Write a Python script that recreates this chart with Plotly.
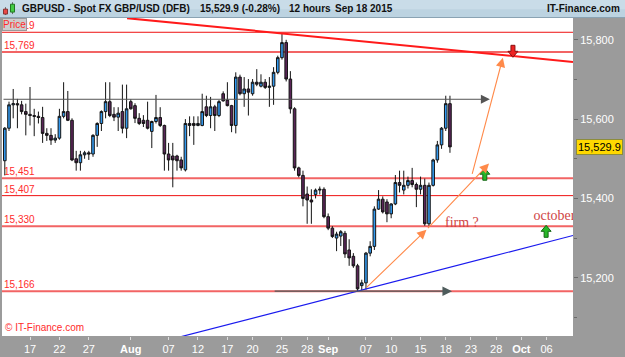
import plotly.graph_objects as go

# ---- 12-hour candles, GBPUSD (x = candle slot index) ----
opens = [15495, 15577, 15636, 15639, 15636, 15619, 15612, 15609, 15607, 15604,
         15564, 15559, 15547, 15552, 15607, 15619, 15597, 15500, 15490, 15510,
         15515, 15512, 15559, 15589, 15619, 15644, 15612, 15605, 15619, 15577,
         15644, 15634, 15602, 15597, 15597, 15569, 15594, 15604, 15584, 15512,
         15507, 15507, 15497, 15472, 15589, 15589, 15584, 15584, 15631, 15609,
         15631, 15609, 15664, 15648, 15634, 15584, 15706, 15664, 15676, 15664,
         15693, 15683, 15693, 15680, 15683, 15718, 15755, 15793, 15701, 15626,
         15477, 15458, 15411, 15396, 15410, 15421, 15423, 15354, 15325, 15300,
         15305, 15312, 15270, 15254, 15230, 15180, 15187, 15262, 15279, 15373,
         15398, 15391, 15361, 15386, 15440, 15421, 15433, 15445, 15435, 15423,
         15433, 15336, 15433, 15497, 15535, 15577, 15639]
highs = [15580, 15644, 15676, 15651, 15646, 15639, 15681, 15626, 15619, 15631,
         15577, 15577, 15562, 15626, 15693, 15671, 15602, 15520, 15520, 15520,
         15520, 15562, 15592, 15622, 15693, 15693, 15630, 15630, 15687, 15687,
         15650, 15640, 15615, 15610, 15644, 15596, 15661, 15630, 15586, 15540,
         15540, 15510, 15505, 15600, 15607, 15607, 15607, 15664, 15659, 15656,
         15636, 15648, 15670, 15693, 15636, 15718, 15712, 15706, 15701, 15701,
         15726, 15713, 15701, 15706, 15731, 15760, 15817, 15800, 15721, 15630,
         15480, 15470, 15430, 15423, 15425, 15430, 15428, 15362, 15330, 15316,
         15320, 15318, 15297, 15262, 15235, 15195, 15265, 15292, 15380, 15421,
         15405, 15398, 15388, 15459, 15470, 15470, 15455, 15477, 15440, 15455,
         15450, 15440, 15500, 15545, 15580, 15659, 15659]
lows = [15458, 15570, 15602, 15577, 15612, 15559, 15584, 15557, 15589, 15540,
        15545, 15535, 15540, 15548, 15602, 15595, 15494, 15470, 15470, 15500,
        15497, 15505, 15530, 15570, 15602, 15605, 15595, 15570, 15564, 15552,
        15624, 15590, 15585, 15580, 15574, 15527, 15589, 15580, 15470, 15470,
        15428, 15470, 15470, 15468, 15557, 15535, 15582, 15582, 15605, 15577,
        15570, 15605, 15644, 15632, 15567, 15564, 15660, 15631, 15609, 15659,
        15683, 15680, 15676, 15631, 15636, 15713, 15750, 15695, 15614, 15470,
        15453, 15380, 15336, 15336, 15400, 15410, 15350, 15320, 15300, 15267,
        15280, 15250, 15230, 15225, 15166, 15168, 15170, 15254, 15270, 15371,
        15362, 15340, 15350, 15383, 15415, 15410, 15425, 15428, 15378, 15410,
        15331, 15331, 15430, 15490, 15525, 15570, 15515]
closes = [15577, 15636, 15639, 15636, 15619, 15612, 15609, 15607, 15604, 15564,
          15559, 15547, 15552, 15607, 15619, 15597, 15497, 15490, 15510, 15515,
          15512, 15559, 15589, 15619, 15644, 15609, 15605, 15615, 15577, 15626,
          15626, 15602, 15589, 15589, 15577, 15594, 15604, 15584, 15512, 15497,
          15497, 15495, 15477, 15589, 15584, 15584, 15589, 15619, 15609, 15631,
          15609, 15644, 15646, 15634, 15584, 15706, 15664, 15676, 15668, 15693,
          15688, 15693, 15680, 15683, 15718, 15755, 15793, 15701, 15626, 15477,
          15458, 15400, 15396, 15391, 15421, 15423, 15354, 15325, 15304, 15310,
          15316, 15260, 15250, 15230, 15172, 15187, 15262, 15279, 15373, 15398,
          15366, 15361, 15386, 15440, 15433, 15433, 15445, 15435, 15423, 15433,
          15336, 15433, 15497, 15535, 15577, 15639, 15529.9]
x_idx = list(range(len(opens)))

# ---- axis ticks (slot index -> date label) ----
tick_idx = [6, 13, 20, 30, 39, 46, 53, 59, 66, 72, 77, 86, 92, 99, 105, 111, 117, 123, 129]
tick_text = ["17", "22", "27", "<b>Aug</b>", "07", "12", "17", "20", "25", "28",
             "<b>Sep</b>", "07", "10", "15", "18", "23", "28", "<b>Oct</b>", "06"]

# ---- horizontal levels ----
level_values = [15819, 15769, 15451, 15407, 15330, 15166]
level_labels = ["15,819", "15,769", "15,451", "15,407", "15,330", "15,166"]
level_thick = [False, True, True, False, True, True]

# ---- drawn lines (slot index, price) ----
resist_x, resist_y = [29.1, 135.3], [15854.6, 15744]
support_x, support_y = [40, 135.3], [15046, 15306.5]
gray_top_x, gray_top_y = [-0.67, 115.5], [15650, 15650]
gray_bot_x, gray_bot_y = [63.9, 106.5], [15166, 15166]
orange_a = [(85.8, 15172), (100.4, 15321)]
orange_b = [(100.4, 15321), (115.3, 15488)]
orange_c = [(111.2, 15458), (118.6, 15755)]
up_arrows = [(114.3, 15461), (128.9, 15317)]
down_arrows = [(121.0, 15771)]
last_price = 15529.9

fig = go.Figure()
fig.add_trace(go.Candlestick(
    x=x_idx, open=opens, high=highs, low=lows, close=closes,
    increasing=dict(line=dict(color="#141414", width=1), fillcolor="#3399ee"),
    decreasing=dict(line=dict(color="#141414", width=1), fillcolor="#5a2558"),
    whiskerwidth=0, showlegend=False, hoverinfo="skip"))

fig.add_trace(go.Scatter(
    x=[125.9], y=[15355], mode="text", text=["october"], textposition="middle right",
    textfont=dict(family="Liberation Serif", size=14, color="#d04545"),
    cliponaxis=True, showlegend=False, hoverinfo="skip"))

shapes = []
for v, th in zip(level_values, level_thick):
    shapes.append(dict(type="line", xref="paper", x0=0, x1=1, yref="y", y0=v, y1=v,
                       line=dict(color="#f26464" if th else "#ee1111", width=2 if th else 1),
                       layer="below"))
shapes.append(dict(type="line", xref="x", yref="y", x0=resist_x[0], x1=resist_x[1],
                   y0=resist_y[0], y1=resist_y[1], line=dict(color="#ff1a1a", width=2)))
shapes.append(dict(type="line", xref="x", yref="y", x0=support_x[0], x1=support_x[1],
                   y0=support_y[0], y1=support_y[1], line=dict(color="#1a1aee", width=1.2)))

up_path = "M -2,-6 L 2,-6 L 2,0 L 5,0 L 0,6 L -5,0 L -2,0 Z"
down_path = "M -2,6 L 2,6 L 2,0 L 5,0 L 0,-6 L -5,0 L -2,0 Z"
for (ax_, ay_) in up_arrows:
    shapes.append(dict(type="path", xref="x", yref="y", xsizemode="pixel", ysizemode="pixel",
                       xanchor=ax_, yanchor=ay_, path=up_path,
                       fillcolor="#27b827", line=dict(color="#146614", width=1)))
for (ax_, ay_) in down_arrows:
    shapes.append(dict(type="path", xref="x", yref="y", xsizemode="pixel", ysizemode="pixel",
                       xanchor=ax_, yanchor=ay_, path=down_path,
                       fillcolor="#ee2222", line=dict(color="#8a1111", width=1)))


def px_x(px):
    return (px - 2) / 571.0


def px_y(py):
    return 1 + (18 - py) / 323.0


# header bar
shapes.append(dict(type="rect", xref="paper", yref="paper", x0=-0.01, x1=1.1,
                   y0=px_y(17.5), y1=px_y(-1), fillcolor="#bcd3e1", line=dict(width=0), layer="above"))
shapes.append(dict(type="rect", xref="paper", yref="paper", x0=-0.01, x1=1.1,
                   y0=px_y(9), y1=px_y(-1), fillcolor="#c9dce8", line=dict(width=0), layer="above"))
shapes.append(dict(type="line", xref="paper", yref="paper", x0=-0.01, x1=1.1,
                   y0=px_y(17.5), y1=px_y(17.5), line=dict(color="#8aa3b3", width=1)))
# header icon
shapes.append(dict(type="line", xref="paper", yref="paper", x0=px_x(5.5), x1=px_x(5.5),
                   y0=px_y(15), y1=px_y(7), line=dict(color="#666", width=1)))
shapes.append(dict(type="rect", xref="paper", yref="paper", x0=px_x(3.5), x1=px_x(7.5),
                   y0=px_y(14), y1=px_y(9), fillcolor="#e84848", line=dict(color="#883333", width=1)))
shapes.append(dict(type="line", xref="paper", yref="paper", x0=px_x(12.5), x1=px_x(12.5),
                   y0=px_y(14), y1=px_y(2), line=dict(color="#666", width=1)))
shapes.append(dict(type="rect", xref="paper", yref="paper", x0=px_x(10.5), x1=px_x(14.5),
                   y0=px_y(12), y1=px_y(4), fillcolor="#44cc44", line=dict(color="#227722", width=1)))

annotations = []
# level labels
for v, lab in zip(level_values, level_labels):
    annotations.append(dict(xref="paper", x=0, xanchor="left", xshift=1, yref="y", y=v,
                            yanchor="bottom", text=lab, showarrow=False, borderpad=0,
                            font=dict(family="Liberation Sans", size=10, color="#ff2b2b")))


def arrow(p0, p1, color, width, size):
    return dict(x=p1[0], y=p1[1], ax=p0[0], ay=p0[1], xref="x", yref="y",
                axref="x", ayref="y", text="", showarrow=True, arrowhead=2,
                arrowsize=size, arrowwidth=width, arrowcolor=color)


annotations.append(arrow((gray_top_x[0], gray_top_y[0]), (gray_top_x[1], gray_top_y[1]), "#555555", 1, 1.8))
annotations.append(arrow((gray_bot_x[0], gray_bot_y[0]), (gray_bot_x[1], gray_bot_y[1]), "#4e5c5c", 1.2, 1.6))
for seg in (orange_a, orange_b, orange_c):
    annotations.append(arrow(seg[0], seg[1], "#ff8a4a", 1.1, 1.7))

annotations.append(dict(x=108.9, y=15340, xref="x", yref="y", text="firm ?", showarrow=False,
                        font=dict(family="Liberation Serif", size=14, color="#d04545")))
# Price box
annotations.append(dict(xref="paper", yref="paper", x=0, y=1, xanchor="left", yanchor="top",
                        text="Price", showarrow=False, bgcolor="#cdcdcd", bordercolor="#9a9a9a",
                        borderwidth=1, borderpad=0,
                        font=dict(family="Liberation Sans", size=10, color="#ff2b2b")))
# copyright
annotations.append(dict(xref="paper", yref="paper", x=0, y=0, xanchor="left", yanchor="bottom",
                        xshift=1, yshift=1, text="© IT-Finance.com", showarrow=False,
                        font=dict(family="Liberation Sans", size=10, color="#ff2b2b")))
# last price tag
annotations.append(dict(xref="paper", x=1, xanchor="left", xshift=3, yref="y", y=last_price,
                        text="15,529.9", showarrow=False, bgcolor="#ffd800", bordercolor="#8c8c3c",
                        borderwidth=1, borderpad=1,
                        font=dict(family="Liberation Sans", size=11, color="#000000")))
# header texts
hdr_font = dict(family="Liberation Sans", size=10, color="#111111")
for px, txt in [(20, "<b>GBPUSD - Spot FX GBP/USD (DFB)</b>"), (198, "<b>15,529.9 (-0.28%)</b>"),
                (287, "<b>12 hours</b>"), (333, "<b>Sep 18 2015</b>")]:
    annotations.append(dict(xref="paper", yref="paper", x=px_x(px), y=px_y(8.5), xanchor="left",
                            yanchor="middle", text=txt, showarrow=False, font=hdr_font))
annotations.append(dict(xref="paper", yref="paper", x=px_x(622), y=px_y(8.5), xanchor="right",
                        yanchor="middle", text="<b>IT-Finance.com</b>", showarrow=False, font=hdr_font))

fig.update_layout(
    width=625, height=357, margin=dict(l=2, r=52, t=18, b=16),
    paper_bgcolor="#9b9b9b", plot_bgcolor="#ffffff", showlegend=False,
    boxgap=0.12,
    shapes=shapes, annotations=annotations,
    xaxis=dict(range=[-0.67, 135.3], tickmode="array", tickvals=tick_idx, ticktext=tick_text,
               ticks="outside", ticklen=3, tickcolor="#dddddd", showgrid=False, zeroline=False,
               showline=False, rangeslider=dict(visible=False), fixedrange=True,
               tickfont=dict(family="Liberation Sans", size=11, color="#ffffff")),
    yaxis=dict(range=[15053, 15855], side="right", tick0=15000, dtick=200, tickformat=",d",
               ticks="outside", ticklen=4, tickcolor="#6a6a6a", showgrid=False, zeroline=False,
               showline=False, fixedrange=True,
               minor=dict(dtick=100, tick0=15000, ticks="outside", ticklen=3, tickcolor="#6a6a6a"),
               tickfont=dict(family="Liberation Sans", size=11, color="#ffffff")),
)

fig.write_html("out.html")
